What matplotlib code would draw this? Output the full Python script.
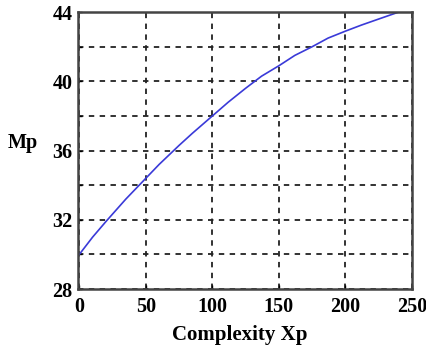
import matplotlib.pyplot as plt
import numpy as np

# values
complexity = [0, 10, 20, 35, 50, 60, 75, 85, 100, 112, 125, 137, 150, 162,
              175, 187, 200, 212, 225, 240]
mp = [30.0, 31.0, 31.9, 33.2, 34.4, 35.2, 36.3, 37.0, 38.0, 38.8, 39.6, 40.3,
      40.9, 41.5, 42.0, 42.5, 42.9, 43.25, 43.6, 44.0]

x_ticks = [0, 50, 100, 150, 200, 250]
y_grid = [28, 30, 32, 34, 36, 38, 40, 42, 44]
y_labels = ['28', '', '32', '', '36', '', '40', '', '44']

plt.rcParams['font.family'] = ['Liberation Serif', 'DejaVu Serif']

fig = plt.figure(figsize=(4.26, 3.56), dpi=100)
ax = fig.add_axes([0.183, 0.188, 0.784, 0.778])

ax.plot(complexity, mp, color='#3a3ad8', linewidth=1.2)

ax.set_xlim([-1, 250])
ax.set_ylim([28, 44])
ax.set_xticks(x_ticks)
ax.set_yticks(y_grid)
ax.set_yticklabels(y_labels)
for lab in ax.get_xticklabels() + ax.get_yticklabels():
    lab.set_fontweight('bold')
    lab.set_fontsize(14.5)

ax.grid(True, color='#222222', linestyle=(0, (3, 3)), linewidth=1.3)
ax.tick_params(direction='in', length=3, width=1)
ax.tick_params(axis='x', pad=6)
ax.tick_params(axis='y', pad=4)
for s in ax.spines.values():
    s.set_linewidth(1.8)
    s.set_color('#444444')

ax.set_xlabel('Complexity Xp', fontsize=15, fontweight='bold')
ax.set_ylabel('Mp', fontsize=14.5, fontweight='bold', rotation=0)
ax.xaxis.set_label_coords(0.485, -0.166)
ax.yaxis.set_label_coords(-0.165, 0.527)
ax.xaxis.label.set_va('center')
ax.yaxis.label.set_va('center')
ax.yaxis.label.set_ha('center')

plt.savefig('out.png', dpi=100)
